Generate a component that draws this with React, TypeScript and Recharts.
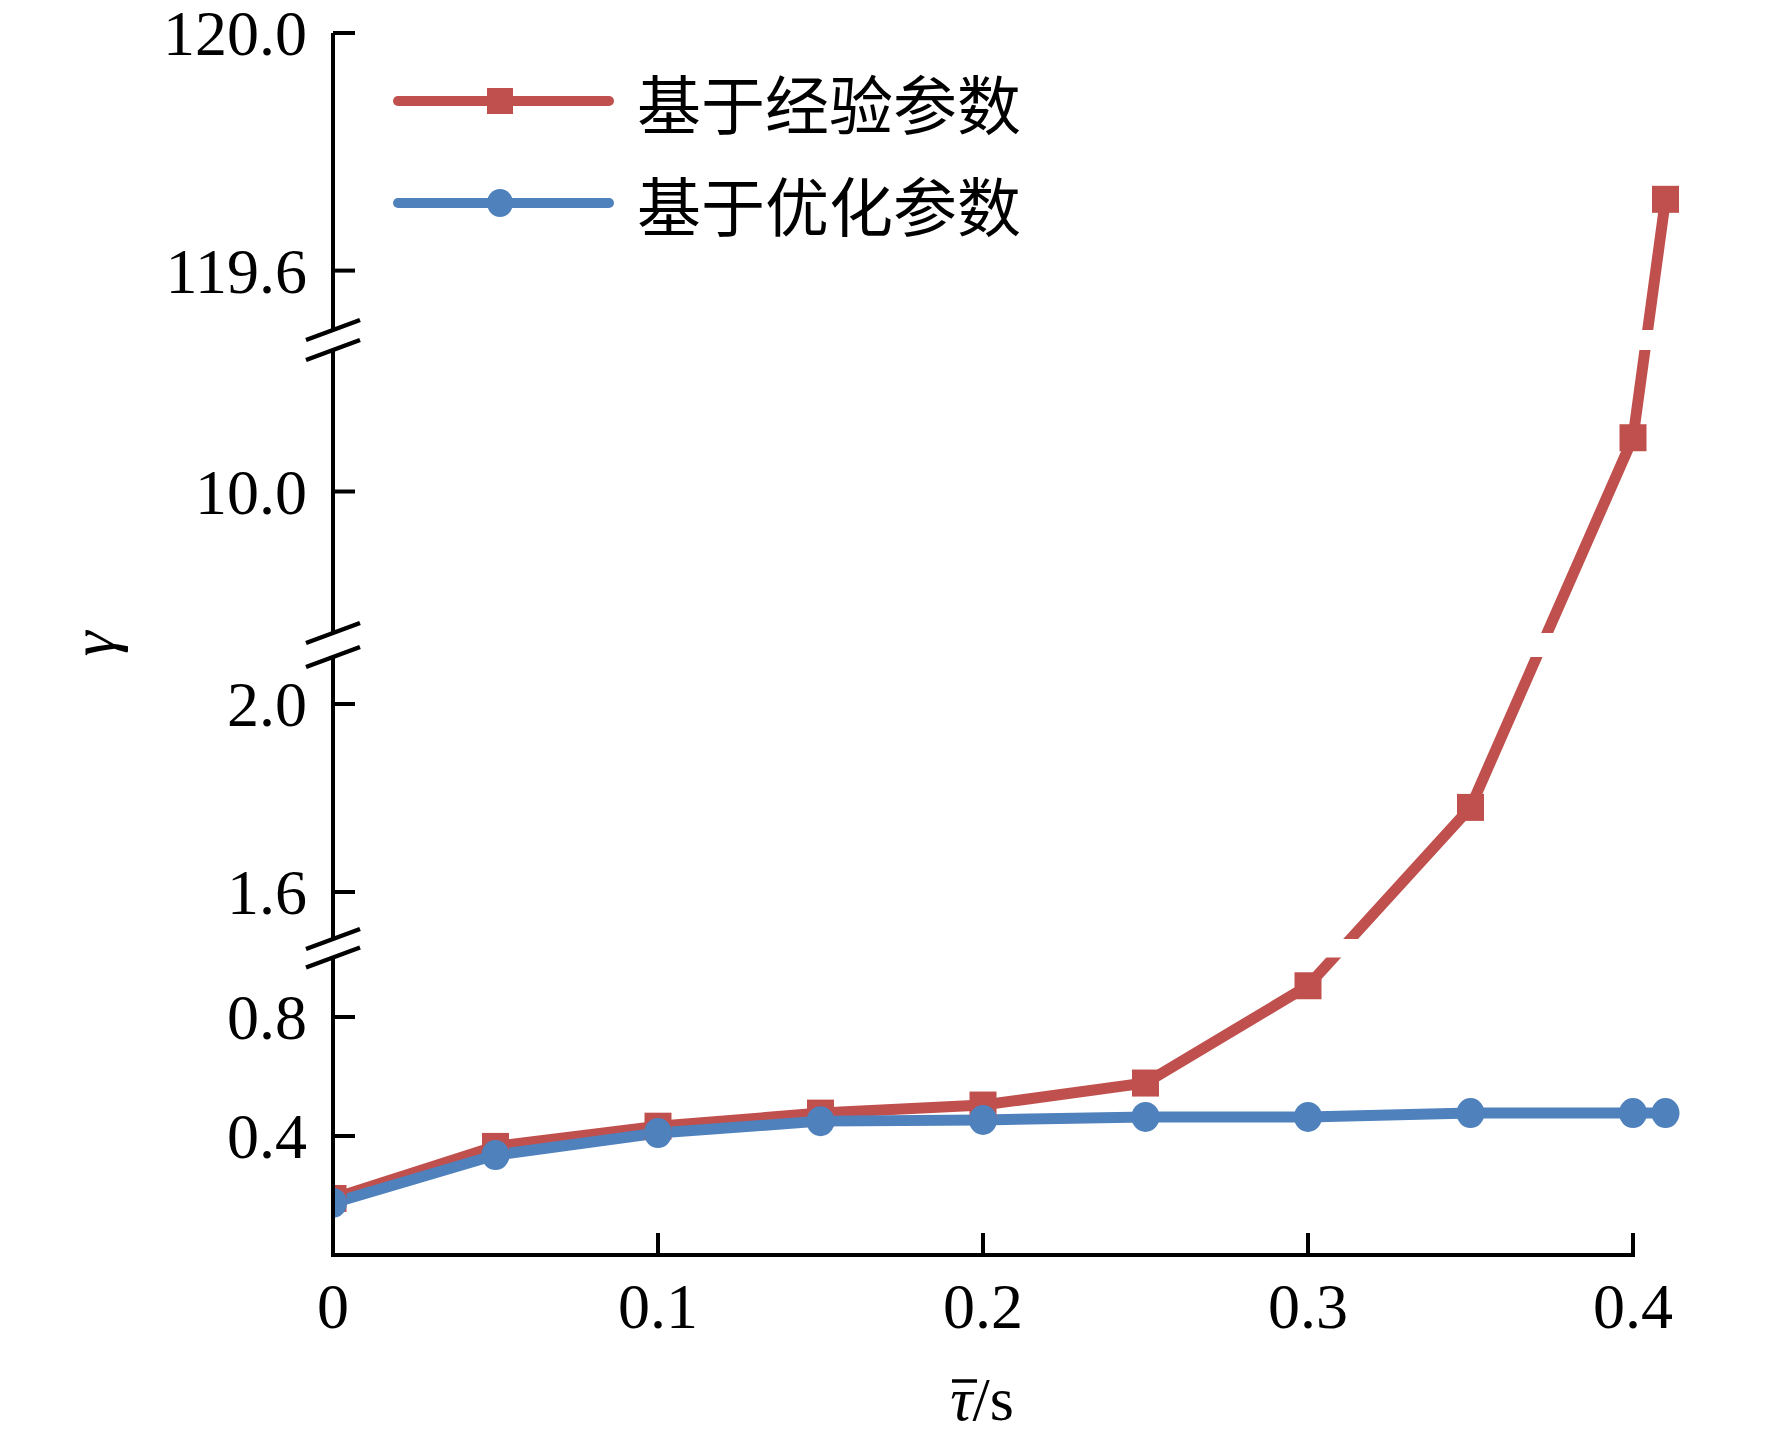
import React from 'react';
import { LineChart, Line, XAxis, YAxis, ReferenceLine, ReferenceArea, Legend } from 'recharts';

// ---- data ----
const TAU = [0, 0.05, 0.1, 0.15, 0.2, 0.25, 0.3, 0.35, 0.4, 0.41];
const GAMMA_EMPIRICAL = [0.19, 0.365, 0.433, 0.477, 0.504, 0.578, 0.905, 1.78, 10.19, 119.72];
const GAMMA_OPTIMIZED = [0.175, 0.336, 0.41, 0.45, 0.454, 0.464, 0.464, 0.477, 0.477, 0.477];
const SERIES_NAMES = ['基于经验参数', '基于优化参数'];
const X_TICKS = [0, 0.1, 0.2, 0.3, 0.4];
const X_TICK_LABELS = ['0', '0.1', '0.2', '0.3', '0.4'];
const Y_TICKS = [0.4, 0.8, 1.6, 2.0, 10.0, 119.6, 120.0];
const Y_TICK_LABELS = ['0.4', '0.8', '1.6', '2.0', '10.0', '119.6', '120.0'];

// ---- broken y axis: value ranges and the share of the axis they occupy ----
const Y_SEGMENTS = [
  { from: 0, to: 1.0, u0: 0, u1: 297.5 },
  { from: 1.5, to: 2.1, u0: 316, u1: 598 },
  { from: 9.5, to: 10.5, u0: 622, u1: 905 },
  { from: 119.5, to: 120.0, u0: 925, u1: 1222 },
];
const U_MAX = 1222;

function toU(v: number): number {
  for (let i = 0; i < Y_SEGMENTS.length; i++) {
    const s = Y_SEGMENTS[i];
    const next = Y_SEGMENTS[i + 1];
    if (!next || v < (s.to + next.from) / 2) {
      return s.u0 + ((v - s.from) / (s.to - s.from)) * (s.u1 - s.u0);
    }
  }
  return 0;
}

const GAPS = Y_SEGMENTS.slice(1).map((s, i) => ({ low: Y_SEGMENTS[i].u1, high: s.u0 }));

const chartData = TAU.map((t, i) => ({
  tau: t,
  emp: toU(GAMMA_EMPIRICAL[i]),
  opt: toU(GAMMA_OPTIMIZED[i]),
}));

const RED = '#C0504D';
const BLUE = '#4F81BD';
const SERIF = '"Liberation Serif", "Times New Roman", serif';
const CJK = '"Noto Sans CJK SC", sans-serif';
const TICK_FS = 64;

const SquareDot = (props: any) => {
  const { cx, cy } = props;
  if (cx == null || cy == null) return null;
  return <rect x={cx - 13.5} y={cy - 13.5} width={27} height={27} fill={RED} />;
};
const CircleDot = (props: any) => {
  const { cx, cy } = props;
  if (cx == null || cy == null) return null;
  return <ellipse cx={cx} cy={cy} rx={14} ry={15} fill={BLUE} />;
};

const YTick = (props: any) => {
  const { x, y, index } = props;
  return (
    <g>
      <line x1={x} x2={x + 22} y1={y} y2={y} stroke="#000" strokeWidth={4} />
      <text x={x - 26} y={y} dy={22} textAnchor="end" fontFamily={SERIF} fontSize={TICK_FS} fill="#000">
        {Y_TICK_LABELS[index]}
      </text>
    </g>
  );
};

const XTick = (props: any) => {
  const { x, y, index } = props;
  return (
    <g>
      <line x1={x} x2={x} y1={y} y2={y - 22} stroke="#000" strokeWidth={4} />
      <text x={x} y={y + 73} textAnchor="middle" fontFamily={SERIF} fontSize={TICK_FS} fill="#000">
        {X_TICK_LABELS[index]}
      </text>
    </g>
  );
};

const Slash = (props: any) => {
  const { x1, y1 } = props;
  if (x1 == null || y1 == null) return null;
  return <line x1={x1 - 27} y1={y1 + 10} x2={x1 + 27} y2={y1 - 10} stroke="#000" strokeWidth={4.5} />;
};

const YTitle = (props: any) => {
  const vb = props.viewBox || {};
  const x = vb.x - 119;
  const y = vb.y + vb.height / 2;
  return (
    <text x={x} y={y} transform={`rotate(-90 ${x} ${y})`} textAnchor="middle" fontFamily={SERIF} fontSize={64} fontStyle="italic" fill="#000">
      γ
    </text>
  );
};

const XTitle = (props: any) => {
  const vb = props.viewBox || {};
  const cx = vb.x + (0.2 / 0.415) * vb.width - 1;
  const y = vb.y + 165;
  return (
    <g>
      <text x={cx} y={y} textAnchor="middle" fontFamily={SERIF} fontSize={62} fill="#000">
        <tspan fontStyle="italic">τ</tspan>
        <tspan>/s</tspan>
      </text>
      <line x1={cx - 30} x2={cx - 5} y1={y - 39} y2={y - 39} stroke="#000" strokeWidth={3.5} />
    </g>
  );
};

const LegendContent = (props: any) => {
  const payload = props.payload || [];
  return (
    <svg width={720} height={220} style={{ display: 'block' }}>
      {payload.map((entry: any, i: number) => {
        const cy = 61 + i * 102;
        const color = entry.color;
        const isSquare = entry.dataKey === 'emp';
        return (
          <g key={i}>
            <line x1={18} x2={229} y1={cy} y2={cy} stroke={color} strokeWidth={10} strokeLinecap="round" />
            {isSquare ? (
              <rect x={120 - 13} y={cy - 13} width={26} height={26} fill={color} />
            ) : (
              <ellipse cx={120} cy={cy} rx={13} ry={14} fill={color} />
            )}
            <text x={257} y={cy} dominantBaseline="central" fontFamily={CJK} fontSize={64} fill="#000">
              {entry.value}
            </text>
          </g>
        );
      })}
    </svg>
  );
};

export default function App() {
  return (
    <div style={{ width: 1756, height: 1425 }}>
      <LineChart
        width={1756}
        height={1425}
        data={chartData}
        margin={{ top: 25, right: 82.25, bottom: 78, left: 225 }}
      >
        <XAxis
          dataKey="tau"
          type="number"
          domain={[0, 0.415]}
          allowDataOverflow
          ticks={X_TICKS}
          interval={0}
          height={100}
          axisLine={false}
          tickLine={false}
          tickSize={0}
          tickMargin={0}
          tick={<XTick />}
          label={(p: any) => <XTitle {...p} />}
        />
        <YAxis
          type="number"
          domain={[0, U_MAX]}
          ticks={Y_TICKS.map(toU)}
          interval={0}
          width={100}
          axisLine={false}
          tickLine={false}
          tickSize={0}
          tickMargin={0}
          tick={<YTick />}
          label={(p: any) => <YTitle {...p} />}
        />
        <Legend
          layout="vertical"
          align="center"
          verticalAlign="middle"
          itemSorter="dataKey"
          wrapperStyle={{ left: 372, top: 32, width: 720, height: 220 }}
          content={(p: any) => <LegendContent {...p} />}
        />
        <Line
          type="linear"
          dataKey="emp"
          name={SERIES_NAMES[0]}
          stroke={RED}
          strokeWidth={11}
          dot={<SquareDot />}
          activeDot={false}
          isAnimationActive={false}
        />
        <Line
          type="linear"
          dataKey="opt"
          name={SERIES_NAMES[1]}
          stroke={BLUE}
          strokeWidth={11}
          dot={<CircleDot />}
          activeDot={false}
          isAnimationActive={false}
        />
        {/* axis lines */}
        <ReferenceLine
          segment={[{ x: 0, y: 0 }, { x: 0.4, y: 0 }]}
          stroke="#000"
          strokeWidth={4}
          strokeLinecap="square"
          zIndex={1600}
        />
        {Y_SEGMENTS.map((s, i) => (
          <ReferenceLine
            key={`ys${i}`}
            segment={[{ x: 0, y: s.u0 }, { x: 0, y: s.u1 }]}
            stroke="#000"
            strokeWidth={4}
            zIndex={1600}
          />
        ))}
        {/* axis breaks: white band through the plot and two slashes */}
        {GAPS.map((g, i) => (
          <ReferenceArea
            key={`gap${i}`}
            x1={0}
            x2={0.415}
            y1={g.low}
            y2={g.high}
            fill="#ffffff"
            fillOpacity={1}
            stroke="none"
            zIndex={1500}
          />
        ))}
        {GAPS.map((g, i) => (
          <ReferenceLine key={`bl${i}`} y={g.low} stroke="#000" shape={(p: any) => <Slash {...p} />} zIndex={1700} />
        ))}
        {GAPS.map((g, i) => (
          <ReferenceLine key={`bh${i}`} y={g.high} stroke="#000" shape={(p: any) => <Slash {...p} />} zIndex={1700} />
        ))}
      </LineChart>
    </div>
  );
}
